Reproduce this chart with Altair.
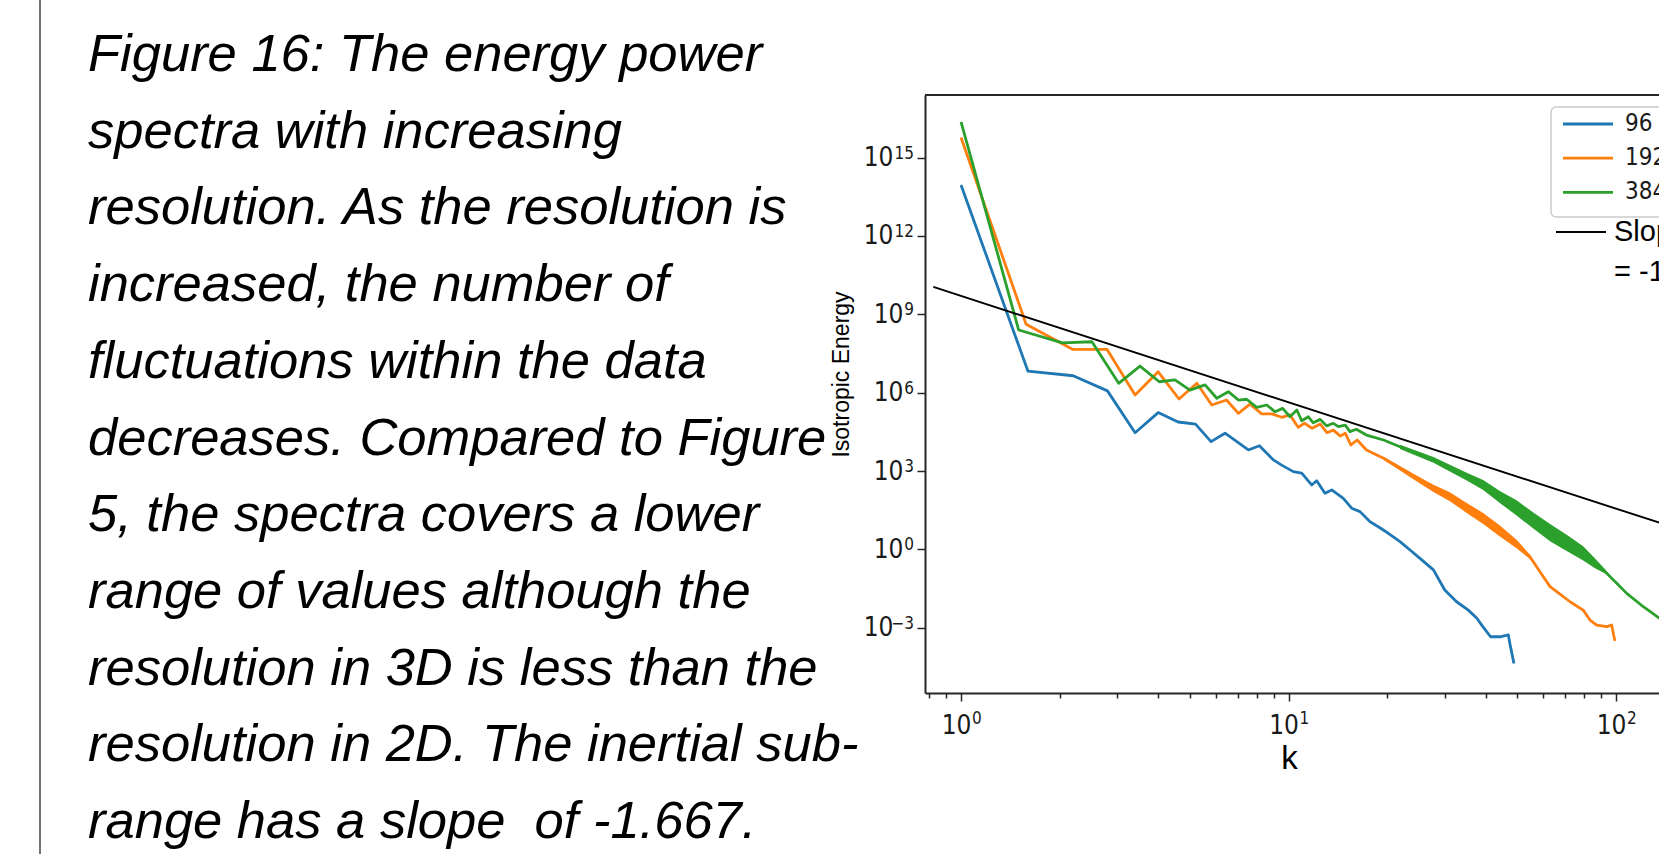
import altair as alt
import pandas as pd

# ---------------- data ----------------
series_names = ["96", "192", "384"]
series_colors = ["#1f77b4", "#ff7f0e", "#2ca02c"]

# exponents (log10 of Isotropic Energy)
blue_k = [1.0, 1.6, 2.2, 2.8, 3.4, 4.0, 4.6, 5.2, 5.8, 6.4, 7.54, 8.15, 8.99, 9.53, 10.34, 10.97,
          11.77, 12.19, 12.92, 13.55, 14.70, 15.59, 16.53, 17.74, 18.80, 20.17, 21.9, 23.5, 25.2,
          27.7, 30.0, 32.6, 35.4, 37.6, 39.2, 41.4, 44.2, 46.9, 47.5, 48.8]
blue_exp = [13.95, 6.83, 6.65, 6.07, 4.47, 5.24, 4.88, 4.80, 4.13, 4.45, 3.81, 3.97, 3.43, 3.23, 2.98,
            2.92, 2.47, 2.63, 2.15, 2.28, 1.96, 1.58, 1.45, 1.06, 0.87, 0.62, 0.30, -0.02, -0.34,
            -0.78, -1.55, -2.00, -2.32, -2.63, -2.95, -3.34, -3.34, -3.27, -3.65, -4.36]

orange_k = [1.0, 1.58, 2.19, 2.79, 3.40, 4.0, 4.63, 5.25, 5.83, 6.47, 7.03, 7.63, 8.28, 8.89, 9.53,
            10.1, 10.7, 11.2, 11.8, 12.5, 13.1, 13.7, 14.4, 14.9, 15.5, 16.2, 17.3, 19.5, 21.9, 24.6,
            27.7, 31.1, 35.0, 39.3, 44.2, 49.7, 54.6, 58.6, 62.9, 65.9, 72.4, 79.4, 83.3, 87.3, 93.7,
            97.0, 98.6, 99.3]
orange_exp = [15.77, 8.62, 7.66, 7.66, 5.91, 6.80, 5.76, 6.36, 5.53, 5.72, 5.21, 5.56, 5.19, 5.19, 5.06,
              5.15, 4.68, 4.83, 4.64, 4.80, 4.47, 4.57, 4.34, 4.45, 4.00, 4.19, 3.81, 3.49, 3.11, 2.72,
              2.34, 2.02, 1.59, 1.19, 0.71, 0.21, -0.28, -0.85, -1.42, -1.61, -2.00, -2.32, -2.70, -2.89,
              -2.95, -2.89, -3.34, -3.50]

green_k = [1.0, 1.5, 2.04, 2.51, 3.03, 3.52, 4.03, 4.50, 5.0, 5.56, 6.04, 6.55, 7.03, 7.45, 8.0, 8.58,
           9.10, 9.6, 10.1, 10.6, 10.97, 11.5, 11.9, 12.5, 13.08, 13.7, 14.2, 14.9, 15.4, 16.1, 17.3,
           19.5, 21.9, 24.6, 27.7, 31.1, 35.0, 39.3, 44.2, 49.7, 55.9, 62.9, 70.7, 79.4, 91.4, 100.5,
           107.8, 121.2, 135.3, 160.0, 192.0]
green_exp = [16.37, 8.40, 7.91, 7.95, 6.36, 7.02, 6.42, 6.49, 6.10, 6.30, 5.79, 6.04, 5.72, 5.75, 5.44,
             5.53, 5.27, 5.40, 5.08, 5.34, 4.93, 5.08, 4.85, 4.98, 4.73, 4.83, 4.70, 4.76, 4.51, 4.60,
             4.38, 4.19, 3.93, 3.68, 3.43, 3.15, 2.79, 2.47, 2.01, 1.59, 1.11, 0.65, 0.25, -0.15, -0.78,
             -1.29, -1.68, -2.19, -2.62, -3.3, -4.0]

# envelope of the dense oscillation (thick band) at high k
orange_band_k = [19.5, 21.9, 24.6, 27.7, 31.1, 35.0, 39.3, 44.2, 49.7, 54.6, 57.6]
orange_band_hi = [3.55, 3.20, 2.83, 2.48, 2.19, 1.78, 1.40, 0.92, 0.37, -0.20, -0.72]
orange_band_lo = [3.43, 3.02, 2.61, 2.20, 1.85, 1.40, 0.98, 0.50, 0.05, -0.36, -0.72]

green_band_k = [21.9, 27.7, 35.0, 39.3, 44.2, 49.7, 55.9, 62.9, 70.7, 79.4, 86.3, 92.6, 96.5]
green_band_hi = [4.01, 3.54, 2.94, 2.66, 2.24, 1.88, 1.42, 0.98, 0.56, 0.12, -0.34, -0.76, -1.02]
green_band_lo = [3.85, 3.32, 2.64, 2.28, 1.78, 1.30, 0.80, 0.32, -0.06, -0.42, -0.72, -0.92, -1.02]

slope_k = [0.823, 192.0]
slope_exp = [10.05, 0.41]
slope_label = ["Slope", "= -1.667"]

x_major_exp = [0, 1, 2]
y_major_exp = [-3, 0, 3, 6, 9, 12, 15]
x_domain = [0.7762, 135.3]
y_domain_exp = [-5.492, 17.394]

caption_lines = [
    "Figure 16: The energy power",
    "spectra with increasing",
    "resolution. As the resolution is",
    "increased, the number of",
    "fluctuations within the data",
    "decreases. Compared to Figure",
    "5, the spectra covers a lower",
    "range of values although the",
    "resolution in 3D is less than the",
    "resolution in 2D. The inertial sub-",
    "range has a slope \u00a0of -1.667.",
]

# ---------------- build tables ----------------
def line_df(ks, exps):
    return pd.DataFrame({"k": ks, "E": [10.0 ** e for e in exps]})

def band_df(ks, hi, lo):
    return pd.DataFrame({"k": ks, "hi": [10.0 ** e for e in hi], "lo": [10.0 ** e for e in lo]})

x_ticks = [m * 10.0 ** d for d in (-1, 0, 1) for m in range(1, 10)] + [100.0]
x_ticks = [t for t in x_ticks if x_domain[0] <= t <= x_domain[1]]
y_vals = [10.0 ** e for e in y_major_exp]
is_major = "abs(log(datum.value)/LN10 - round(log(datum.value)/LN10)) < 1e-6"

AX_COLOR = "#262626"
LBL_COLOR = "#1a1a1a"
TICK_FONT = "DejaVu Sans Condensed, DejaVu Sans"
SANS = "Liberation Sans Narrow, Liberation Sans"
BASE_SIZE = 26
EXP_SIZE = 17

x_scale = alt.Scale(type="log", domain=x_domain, nice=False)
y_scale = alt.Scale(type="log", domain=[10.0 ** y_domain_exp[0], 10.0 ** y_domain_exp[1]], nice=False)

x_axis = alt.Axis(
    values=x_ticks, labelExpr=f"{is_major} ? '10' : ''", labelOverlap=False, grid=False,
    tickSize={"condition": {"test": is_major, "value": 8}, "value": 5},
    tickColor=AX_COLOR, tickWidth=1.5, domainColor=AX_COLOR, domainWidth=2,
    labelFont=TICK_FONT, labelFontSize=BASE_SIZE, labelColor=LBL_COLOR, labelPadding=11, labelOffset=-5,
    title="k", titleFont=SANS, titleFontSize=33, titleFontWeight="normal", titleColor="black",
    titleX=364, titleY=75, titleBaseline="alphabetic", titleAlign="center",
)
y_axis = alt.Axis(
    values=y_vals, labelExpr="'10'", labelOverlap=False, grid=False,
    tickSize=8, tickColor=AX_COLOR, tickWidth=1.5, domainColor=AX_COLOR, domainWidth=2,
    labelFont=TICK_FONT, labelFontSize=BASE_SIZE, labelColor=LBL_COLOR,
    labelPadding={"condition": {"test": "datum.value > 1e11 || datum.value < 0.01", "value": 24}, "value": 14},
    title="Isotropic Energy", titleFont="Liberation Sans", titleFontSize=23, titleFontWeight="normal",
    titleColor="black", titleAngle=270, titleX=-84, titleY=279, titleBaseline="middle", titleAlign="center",
)

X = alt.X("k:Q", scale=x_scale, axis=x_axis)

def line_layer(df, color, width=2.8):
    return alt.Chart(df).mark_line(clip=True, color=color, strokeWidth=width, strokeJoin="round").encode(
        x=X, y=alt.Y("E:Q", scale=y_scale, axis=y_axis)
    )

def band_layer(df, color):
    return alt.Chart(df).mark_area(clip=True, color=color, opacity=1).encode(
        x=X, y=alt.Y("lo:Q", scale=y_scale, axis=y_axis), y2="hi:Q"
    )

one = pd.DataFrame({"a": [0]})

layers = [
    line_layer(line_df(blue_k, blue_exp), series_colors[0]),
    band_layer(band_df(orange_band_k, orange_band_hi, orange_band_lo), series_colors[1]),
    line_layer(line_df(orange_k, orange_exp), series_colors[1]),
    band_layer(band_df(green_band_k, green_band_hi, green_band_lo), series_colors[2]),
    line_layer(line_df(green_k, green_exp), series_colors[2]),
    line_layer(line_df(slope_k, slope_exp), "black", 1.9),
]

# tick-label exponents (matplotlib-style superscripts), placed through the scales
y_exp_df = pd.DataFrame({"E": y_vals, "t": [str(e).replace("-", "\u2212") for e in y_major_exp]})
layers.append(alt.Chart(y_exp_df).mark_text(font=TICK_FONT, fontSize=EXP_SIZE, align="right",
                                            baseline="alphabetic", color=LBL_COLOR, dy=1).encode(
    y=alt.Y("E:Q", scale=y_scale, axis=y_axis), x=alt.value(-11), text="t:N"))
x_exp_df = pd.DataFrame({"k": [10.0 ** e for e in x_major_exp], "t": [str(e) for e in x_major_exp]})
layers.append(alt.Chart(x_exp_df).mark_text(font=TICK_FONT, fontSize=EXP_SIZE, align="left",
                                            baseline="alphabetic", color=LBL_COLOR, dx=11).encode(
    x=X, y=alt.value(629), text="t:N"))

# top spine (the right part of the frame is cut off)
layers.append(alt.Chart(one).mark_rule(color=AX_COLOR, strokeWidth=2).encode(
    x=alt.value(0), x2=alt.value(734), y=alt.value(0)))

# legend box and entries
layers.append(alt.Chart(one).mark_rect(fill="white", stroke="#cccccc", strokeWidth=1.5, cornerRadius=5).encode(
    x=alt.value(626), x2=alt.value(820), y=alt.value(12), y2=alt.value(122)))
for i, (name, col) in enumerate(zip(series_names, series_colors)):
    yy = 29 + 34.2 * i
    layers.append(alt.Chart(one).mark_rule(color=col, strokeWidth=2.8).encode(
        x=alt.value(638), x2=alt.value(688), y=alt.value(yy)))
    layers.append(alt.Chart(one).mark_text(text=name, font=TICK_FONT, fontSize=24, align="left",
                                           baseline="middle", color=LBL_COLOR).encode(
        x=alt.value(700), y=alt.value(yy)))
layers.append(alt.Chart(one).mark_rule(color="black", strokeWidth=1.9).encode(
    x=alt.value(631), x2=alt.value(681), y=alt.value(137)))
layers.append(alt.Chart(one).mark_text(text=slope_label, font=SANS, fontSize=29, align="left",
                                       baseline="middle", lineHeight=40, color="black").encode(
    x=alt.value(689), y=alt.value(137)))

# slide caption on the left and the slide's vertical rule
layers.append(alt.Chart(one).mark_rule(color="#444444", strokeWidth=1.5).encode(
    x=alt.value(-885), y=alt.value(-95), y2=alt.value(759)))
layers.append(alt.Chart(one).mark_text(text=caption_lines, font=SANS, fontSize=52.5, fontStyle="italic",
                                       align="left", baseline="alphabetic", lineHeight=76.7,
                                       color="black").encode(
    x=alt.value(-837), y=alt.value(-24)))

chart = alt.layer(*layers).properties(
    width=734, height=598,
    padding={"left": 925, "top": 95, "right": 0, "bottom": 161},
    autosize=alt.AutoSizeParams(type="none"),
    background="white",
).configure_view(strokeWidth=0)

chart.save("out.html", embed_options={"renderer": "svg", "actions": False})
